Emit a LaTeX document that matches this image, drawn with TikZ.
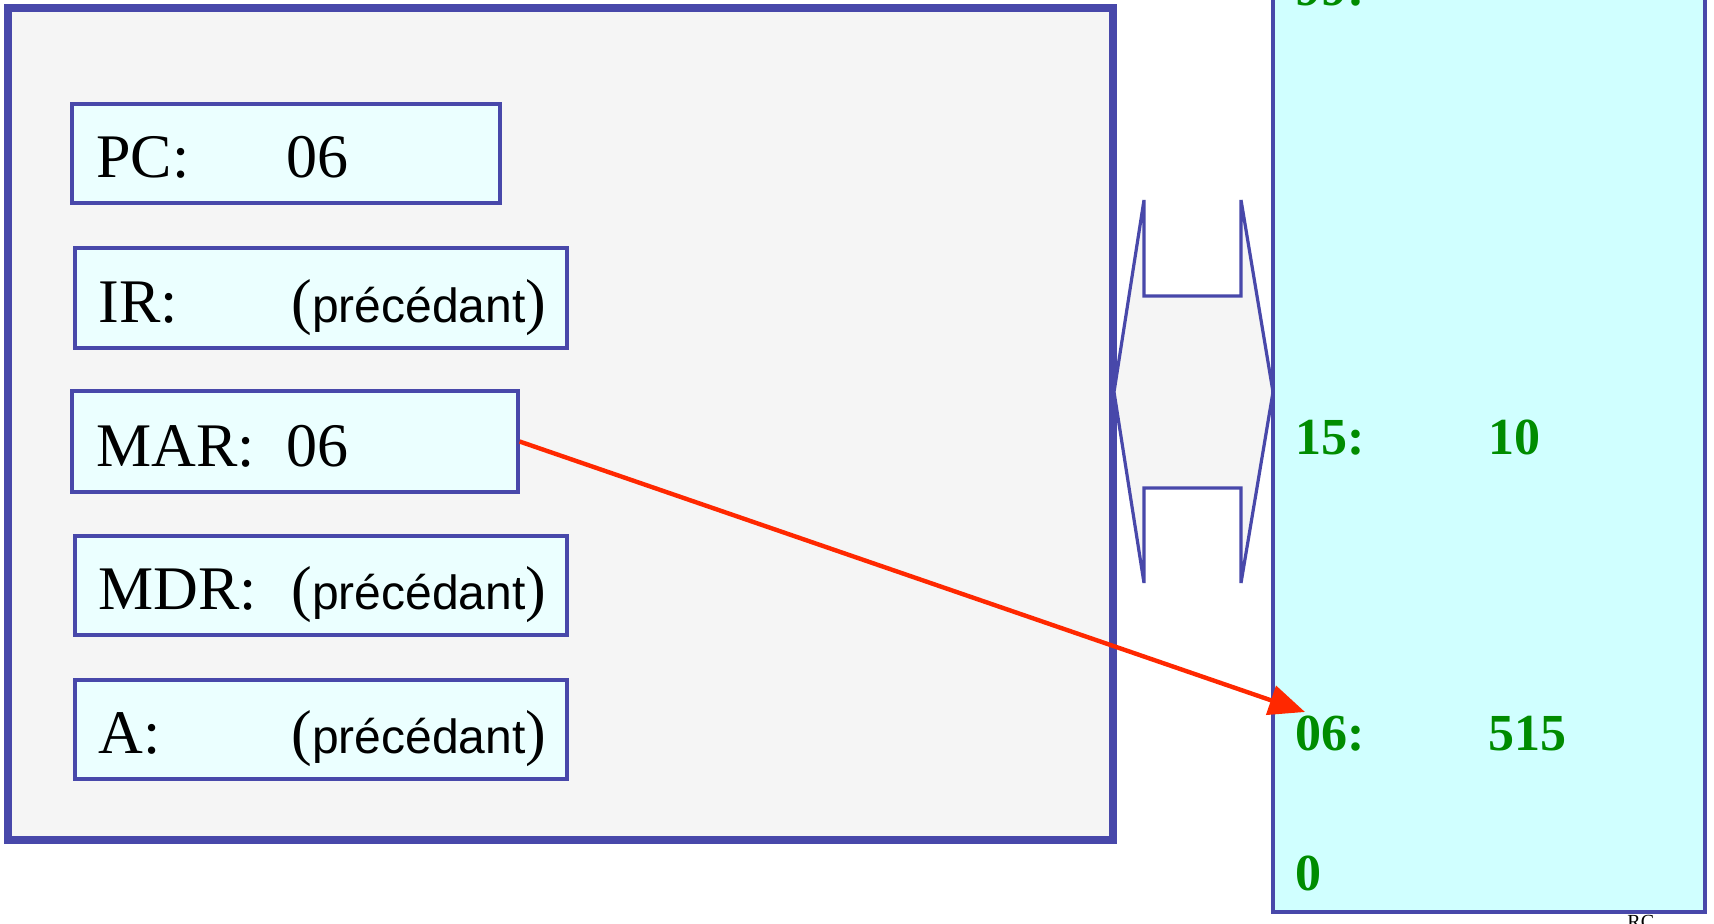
\documentclass[tikz,border=0pt]{standalone}
\usepackage{fontspec}
\setmainfont{Liberation Serif}
\newfontfamily\sansf{Liberation Sans}
\usetikzlibrary{arrows.meta}
\definecolor{bluel}{RGB}{72,72,170}
\definecolor{cpugrey}{RGB}{245,245,245}
\definecolor{regcyan}{RGB}{235,255,255}
\definecolor{memcyan}{RGB}{208,255,255}
\definecolor{memgreen}{RGB}{0,140,0}
\definecolor{arrowred}{RGB}{255,40,0}
\newcommand{\precval}{({\sansf\fontsize{24}{28}\selectfont précédant})}
\begin{document}
\begin{tikzpicture}[x=0.5pt,y=-0.5pt,
 regbox/.style={draw=bluel, line width=1.6pt, fill=regcyan, inner sep=0pt},
 regtxt/.style={anchor=base west, inner sep=0pt, font=\fontsize{31}{36}\selectfont},
 memtxt/.style={anchor=base west, inner sep=0pt, text=memgreen, font=\fontsize{26}{30}\selectfont\bfseries},
 busline/.style={draw=bluel, line width=1.6pt, fill=cpugrey, line join=miter},
]
\useasboundingbox (0,0) rectangle (1714,924);
\fill[white] (0,0) rectangle (1714,924);
% CPU
\node[draw=bluel, line width=4pt, fill=cpugrey, minimum width=552.5pt, minimum height=416pt, inner sep=0pt] (cpu) at (560.5,424) {};
% registers
\node[regbox, minimum width=214pt, minimum height=49.5pt] (pc) at (286,153.5) {};
\node[regbox, minimum width=246pt, minimum height=50pt] (ir) at (321,298) {};
\node[regbox, minimum width=223pt, minimum height=50.5pt] (mar) at (295,441.5) {};
\node[regbox, minimum width=246pt, minimum height=49.5pt] (mdr) at (321,585.5) {};
\node[regbox, minimum width=246pt, minimum height=49.5pt] (acc) at (321,729.5) {};
\node[regtxt] (pcl) at (96,178) {PC:};
\node[regtxt] (pcv) at (286,178) {06};
\node[regtxt] (irl) at (98,323) {IR:};
\node[regtxt] (irv) at (291,323) {\precval};
\node[regtxt] (marl) at (96,467) {MAR:};
\node[regtxt] (marv) at (286,467) {06};
\node[regtxt] (mdrl) at (98,610) {MDR:};
\node[regtxt] (mdrv) at (291,610) {\precval};
\node[regtxt] (accl) at (98,754) {A:};
\node[regtxt] (accv) at (291,754) {\precval};
% bus
\draw[busline] (1114,392) -- (1144,200) -- (1144,296) -- (1241,296) -- (1241,200) -- (1273,392)
  -- (1241,583) -- (1241,488) -- (1144,488) -- (1144,583) -- cycle;
% memory
\draw[draw=bluel, line width=1.6pt, fill=memcyan] (1273,-20) rectangle (1705,912);
\node[memtxt] (m99) at (1295,6) {99:};
\node[memtxt] (m15) at (1295,455) {15:};
\node[memtxt] (m15v) at (1488,455) {10};
\node[memtxt] (m06l) at (1295,750) {06:};
\node[memtxt] (m06v) at (1488,750) {515};
\node[memtxt] (m0) at (1295,890) {0};
\node[anchor=north west, inner sep=0pt, font=\fontsize{10}{12}\selectfont] (rc) at (1627,915) {RC};
% arrow
\coordinate (m06) at (1305,712);
\draw[arrowred, line width=2.2pt, -{Triangle[length=18pt,width=15pt]}] (mar.east) -- (m06);
\end{tikzpicture}
\end{document}
